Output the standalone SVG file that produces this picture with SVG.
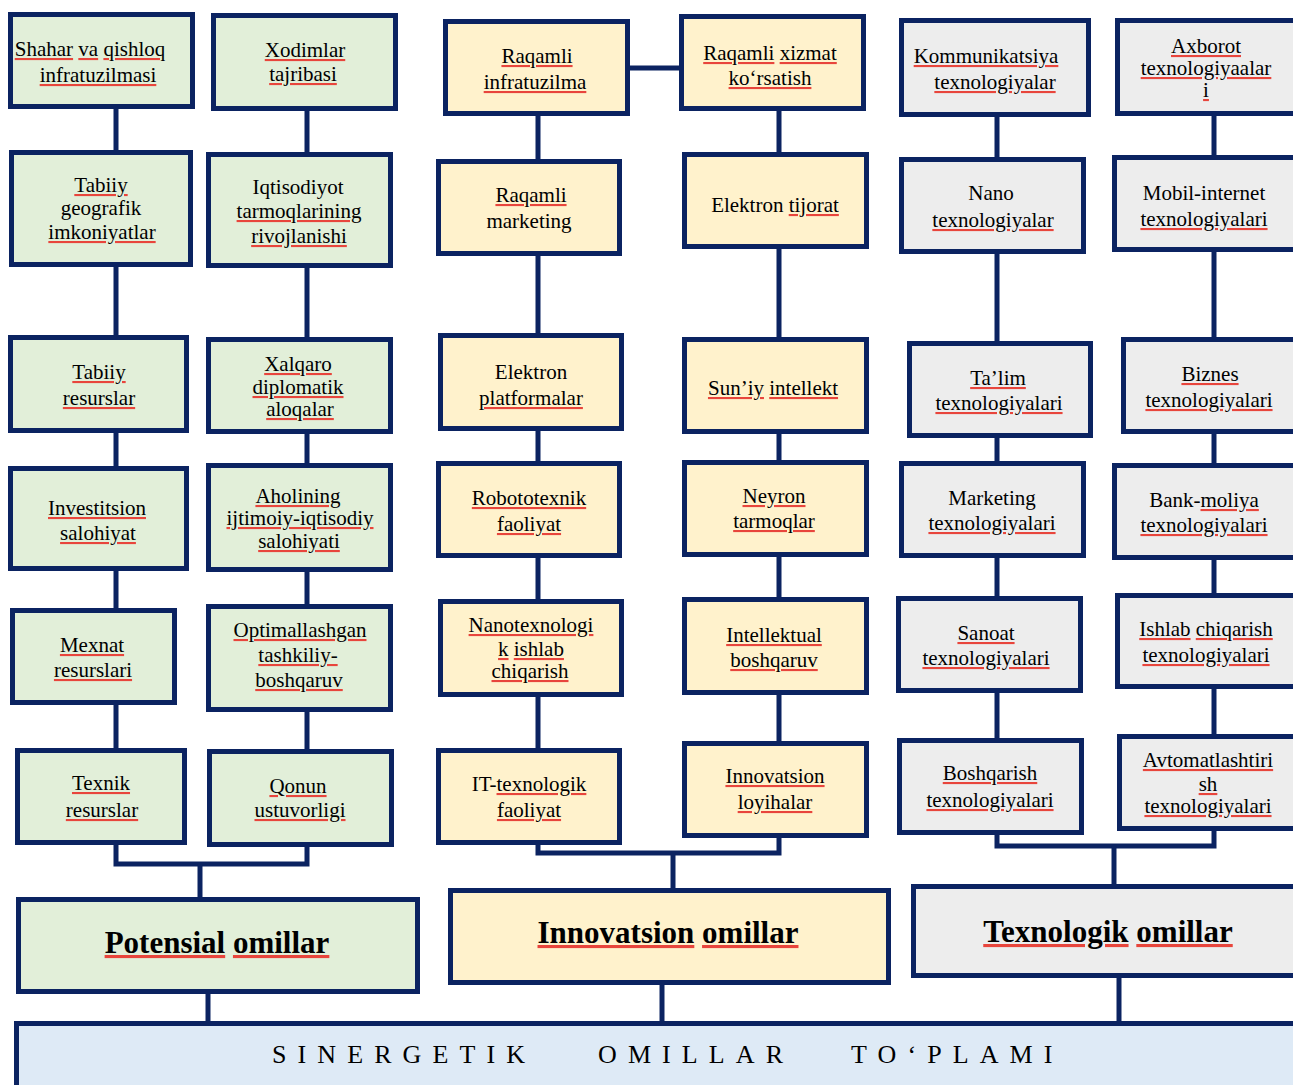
<svg xmlns="http://www.w3.org/2000/svg" width="1293" height="1085" viewBox="0 0 1293 1085">
<style>
.n rect{stroke:#0b2361;stroke-width:5}
.g rect{fill:#e2efd9}.y rect{fill:#fff2cc}.k rect{fill:#ededed}.b rect{fill:#deeaf6}
text{font-family:"Liberation Serif","Times New Roman",serif;font-size:21px;fill:#000;text-anchor:middle}
.h{font-size:31px;font-weight:bold}
.s{font-size:26px;letter-spacing:11.1px;text-anchor:start}
.sp{fill:#e8453c;text-decoration:underline}
.sp tspan{fill:#000}
.c path{fill:none;stroke:#0b2361;stroke-width:5;stroke-linejoin:miter;stroke-linecap:butt}
</style>
<rect width="1293" height="1085" fill="#fff"/>
<g id="connectors" class="c">
<path d="M116 108V864H307V110"/>
<path d="M200 864V898"/>
<path d="M538 115V853H779V110"/>
<path d="M629 68H680"/>
<path d="M673 853V889"/>
<path d="M997 116V846H1214V115"/>
<path d="M1114 846V885"/>
<path d="M208 993V1022"/>
<path d="M662 984V1022"/>
<path d="M1119 977V1022"/>
</g>
<g id="n-shahar" class="n g"><rect x="10.5" y="14.5" width="182" height="92"/><text x="90" y="56"><tspan class="sp"><tspan>Shahar</tspan></tspan> <tspan class="sp"><tspan>va</tspan></tspan> <tspan class="sp"><tspan>qishloq</tspan></tspan></text><text x="98" y="82"><tspan class="sp"><tspan>infratuzilmasi</tspan></tspan></text></g>
<g id="n-tabiiy-geo" class="n g"><rect x="11.5" y="152.5" width="179" height="112"/><text x="101" y="192"><tspan class="sp"><tspan>Tabiiy</tspan></tspan></text><text x="101" y="215">geografik</text><text x="102" y="239"><tspan class="sp"><tspan>imkoniyatlar</tspan></tspan></text></g>
<g id="n-tabiiy-res" class="n g"><rect x="10.5" y="337.5" width="176" height="93"/><text x="99" y="379"><tspan class="sp"><tspan>Tabiiy</tspan></tspan></text><text x="99" y="405"><tspan class="sp"><tspan>resurslar</tspan></tspan></text></g>
<g id="n-invest" class="n g"><rect x="10.5" y="468.5" width="176" height="100"/><text x="97" y="515"><tspan class="sp"><tspan>Investitsion</tspan></tspan></text><text x="98" y="540"><tspan class="sp"><tspan>salohiyat</tspan></tspan></text></g>
<g id="n-mexnat" class="n g"><rect x="12.5" y="610.5" width="162" height="92"/><text x="92" y="652"><tspan class="sp"><tspan>Mexnat</tspan></tspan></text><text x="93" y="677"><tspan class="sp"><tspan>resurslari</tspan></tspan></text></g>
<g id="n-texnik" class="n g"><rect x="17.5" y="750.5" width="167" height="92"/><text x="101" y="790"><tspan class="sp"><tspan>Texnik</tspan></tspan></text><text x="102" y="817"><tspan class="sp"><tspan>resurslar</tspan></tspan></text></g>
<g id="n-xodimlar" class="n g"><rect x="213.5" y="15.5" width="182" height="93"/><text x="305" y="57"><tspan class="sp"><tspan>Xodimlar</tspan></tspan></text><text x="303" y="81"><tspan class="sp"><tspan>tajribasi</tspan></tspan></text></g>
<g id="n-iqtisod" class="n g"><rect x="208.5" y="154.5" width="182" height="111"/><text x="298" y="194">Iqtisodiyot</text><text x="299" y="218"><tspan class="sp"><tspan>tarmoqlarining</tspan></tspan></text><text x="299" y="243"><tspan class="sp"><tspan>rivojlanishi</tspan></tspan></text></g>
<g id="n-xalqaro" class="n g"><rect x="208.5" y="339.5" width="182" height="92"/><text x="298" y="371"><tspan class="sp"><tspan>Xalqaro</tspan></tspan></text><text x="298" y="394"><tspan class="sp"><tspan>diplomatik</tspan></tspan></text><text x="300" y="416"><tspan class="sp"><tspan>aloqalar</tspan></tspan></text></g>
<g id="n-aholi" class="n g"><rect x="208.5" y="465.5" width="182" height="104"/><text x="298" y="503"><tspan class="sp"><tspan>Aholining</tspan></tspan></text><text x="300" y="525"><tspan class="sp"><tspan>ijtimoiy-iqtisodiy</tspan></tspan></text><text x="299" y="548"><tspan class="sp"><tspan>salohiyati</tspan></tspan></text></g>
<g id="n-optim" class="n g"><rect x="208.5" y="606.5" width="182" height="103"/><text x="300" y="637"><tspan class="sp"><tspan>Optimallashgan</tspan></tspan></text><text x="298" y="662"><tspan class="sp"><tspan>tashkiliy-</tspan></tspan></text><text x="299" y="687"><tspan class="sp"><tspan>boshqaruv</tspan></tspan></text></g>
<g id="n-qonun" class="n g"><rect x="209.5" y="751.5" width="182" height="93"/><text x="298" y="793"><tspan class="sp"><tspan>Qonun</tspan></tspan></text><text x="300" y="817"><tspan class="sp"><tspan>ustuvorligi</tspan></tspan></text></g>
<g id="n-raq-infra" class="n y"><rect x="445.5" y="21.5" width="182" height="92"/><text x="537" y="63"><tspan class="sp"><tspan>Raqamli</tspan></tspan></text><text x="535" y="89"><tspan class="sp"><tspan>infratuzilma</tspan></tspan></text></g>
<g id="n-raq-mark" class="n y"><rect x="438.5" y="161.5" width="181" height="92"/><text x="531" y="202"><tspan class="sp"><tspan>Raqamli</tspan></tspan></text><text x="529" y="228">marketing</text></g>
<g id="n-el-plat" class="n y"><rect x="440.5" y="335.5" width="181" height="93"/><text x="531" y="379">Elektron</text><text x="531" y="405"><tspan class="sp"><tspan>platformalar</tspan></tspan></text></g>
<g id="n-robot" class="n y"><rect x="438.5" y="463.5" width="181" height="92"/><text x="529" y="505"><tspan class="sp"><tspan>Robototexnik</tspan></tspan></text><text x="529" y="531"><tspan class="sp"><tspan>faoliyat</tspan></tspan></text></g>
<g id="n-nanotex" class="n y"><rect x="440.5" y="601.5" width="181" height="93"/><text x="531" y="632"><tspan class="sp"><tspan>Nanotexnologi</tspan></tspan></text><text x="531" y="656"><tspan class="sp"><tspan>k</tspan></tspan> <tspan class="sp"><tspan>ishlab</tspan></tspan></text><text x="530" y="678"><tspan class="sp"><tspan>chiqarish</tspan></tspan></text></g>
<g id="n-it" class="n y"><rect x="438.5" y="750.5" width="181" height="92"/><text x="529" y="791">IT-<tspan class="sp"><tspan>texnologik</tspan></tspan></text><text x="529" y="817"><tspan class="sp"><tspan>faoliyat</tspan></tspan></text></g>
<g id="n-raq-xizmat" class="n y"><rect x="681.5" y="16.5" width="182" height="92"/><text x="770" y="60"><tspan class="sp"><tspan>Raqamli</tspan></tspan>  <tspan class="sp"><tspan>xizmat</tspan></tspan></text><text x="770" y="85"><tspan class="sp"><tspan>ko‘rsatish</tspan></tspan></text></g>
<g id="n-el-tij" class="n y"><rect x="684.5" y="154.5" width="182" height="92"/><text x="775" y="212">Elektron <tspan class="sp"><tspan>tijorat</tspan></tspan></text></g>
<g id="n-suniy" class="n y"><rect x="684.5" y="339.5" width="182" height="92"/><text x="773" y="395"><tspan class="sp"><tspan>Sun’iy</tspan></tspan> <tspan class="sp"><tspan>intellekt</tspan></tspan></text></g>
<g id="n-neyron" class="n y"><rect x="684.5" y="462.5" width="182" height="92"/><text x="774" y="503"><tspan class="sp"><tspan>Neyron</tspan></tspan></text><text x="774" y="528"><tspan class="sp"><tspan>tarmoqlar</tspan></tspan></text></g>
<g id="n-intel" class="n y"><rect x="684.5" y="599.5" width="182" height="93"/><text x="774" y="642"><tspan class="sp"><tspan>Intellektual</tspan></tspan></text><text x="774" y="667"><tspan class="sp"><tspan>boshqaruv</tspan></tspan></text></g>
<g id="n-innov-loy" class="n y"><rect x="684.5" y="743.5" width="182" height="92"/><text x="775" y="783"><tspan class="sp"><tspan>Innovatsion</tspan></tspan></text><text x="775" y="809"><tspan class="sp"><tspan>loyihalar</tspan></tspan></text></g>
<g id="n-kommun" class="n k"><rect x="901.5" y="20.5" width="187" height="94"/><text x="986" y="63"><tspan class="sp"><tspan>Kommunikatsiya</tspan></tspan></text><text x="995" y="89"><tspan class="sp"><tspan>texnologiyalar</tspan></tspan></text></g>
<g id="n-nano" class="n k"><rect x="901.5" y="159.5" width="182" height="92"/><text x="991" y="200">Nano</text><text x="993" y="227"><tspan class="sp"><tspan>texnologiyalar</tspan></tspan></text></g>
<g id="n-talim" class="n k"><rect x="909.5" y="343.5" width="181" height="92"/><text x="998" y="385"><tspan class="sp"><tspan>Ta’lim</tspan></tspan></text><text x="999" y="410"><tspan class="sp"><tspan>texnologiyalari</tspan></tspan></text></g>
<g id="n-market" class="n k"><rect x="901.5" y="463.5" width="182" height="92"/><text x="992" y="505">Marketing</text><text x="992" y="530"><tspan class="sp"><tspan>texnologiyalari</tspan></tspan></text></g>
<g id="n-sanoat" class="n k"><rect x="898.5" y="598.5" width="182" height="92"/><text x="986" y="640"><tspan class="sp"><tspan>Sanoat</tspan></tspan></text><text x="986" y="665"><tspan class="sp"><tspan>texnologiyalari</tspan></tspan></text></g>
<g id="n-boshq" class="n k"><rect x="899.5" y="740.5" width="182" height="92"/><text x="990" y="780"><tspan class="sp"><tspan>Boshqarish</tspan></tspan></text><text x="990" y="807"><tspan class="sp"><tspan>texnologiyalari</tspan></tspan></text></g>
<g id="n-axborot" class="n k"><rect x="1117.5" y="20.5" width="185" height="93"/><text x="1206" y="53"><tspan class="sp"><tspan>Axborot</tspan></tspan></text><text x="1206" y="75"><tspan class="sp"><tspan>texnologiyaalar</tspan></tspan></text><text x="1206" y="97"><tspan class="sp"><tspan>i</tspan></tspan></text></g>
<g id="n-mobil" class="n k"><rect x="1114.5" y="157.5" width="188" height="92"/><text x="1204" y="200">Mobil-internet</text><text x="1204" y="226"><tspan class="sp"><tspan>texnologiyalari</tspan></tspan></text></g>
<g id="n-biznes" class="n k"><rect x="1123.5" y="339.5" width="179" height="92"/><text x="1210" y="381"><tspan class="sp"><tspan>Biznes</tspan></tspan></text><text x="1209" y="407"><tspan class="sp"><tspan>texnologiyalari</tspan></tspan></text></g>
<g id="n-bank" class="n k"><rect x="1114.5" y="465.5" width="188" height="92"/><text x="1204" y="507">Bank-<tspan class="sp"><tspan>moliya</tspan></tspan></text><text x="1204" y="532"><tspan class="sp"><tspan>texnologiyalari</tspan></tspan></text></g>
<g id="n-ishlab" class="n k"><rect x="1117.5" y="595.5" width="185" height="91"/><text x="1206" y="636"><tspan class="sp"><tspan>Ishlab</tspan></tspan> <tspan class="sp"><tspan>chiqarish</tspan></tspan></text><text x="1206" y="662"><tspan class="sp"><tspan>texnologiyalari</tspan></tspan></text></g>
<g id="n-avto" class="n k"><rect x="1119.5" y="736.5" width="183" height="92"/><text x="1208" y="767"><tspan class="sp"><tspan>Avtomatlashtiri</tspan></tspan></text><text x="1208" y="791"><tspan class="sp"><tspan>sh</tspan></tspan></text><text x="1208" y="813"><tspan class="sp"><tspan>texnologiyalari</tspan></tspan></text></g>
<g id="n-potensial" class="n g"><rect x="18.5" y="899.5" width="399" height="92"/><text x="217" y="953" class="h"><tspan class="sp"><tspan>Potensial</tspan></tspan> <tspan class="sp"><tspan>omillar</tspan></tspan></text></g>
<g id="n-innovatsion" class="n y"><rect x="450.5" y="890.5" width="438" height="92"/><text x="668" y="943" class="h"><tspan class="sp"><tspan>Innovatsion</tspan></tspan> <tspan class="sp"><tspan>omillar</tspan></tspan></text></g>
<g id="n-texnologik" class="n k"><rect x="913.5" y="886.5" width="392" height="89"/><text x="1108" y="942" class="h"><tspan class="sp"><tspan>Texnologik</tspan></tspan> <tspan class="sp"><tspan>omillar</tspan></tspan></text></g>
<g id="n-sinergetik" class="n b"><rect x="16.5" y="1023.5" width="1295" height="80"/><text x="272" y="1063" class="s">SINERGETIK</text><text x="598" y="1063" class="s">OMILLAR</text><text x="851" y="1063" class="s">TO‘PLAMI</text></g>
</svg>
